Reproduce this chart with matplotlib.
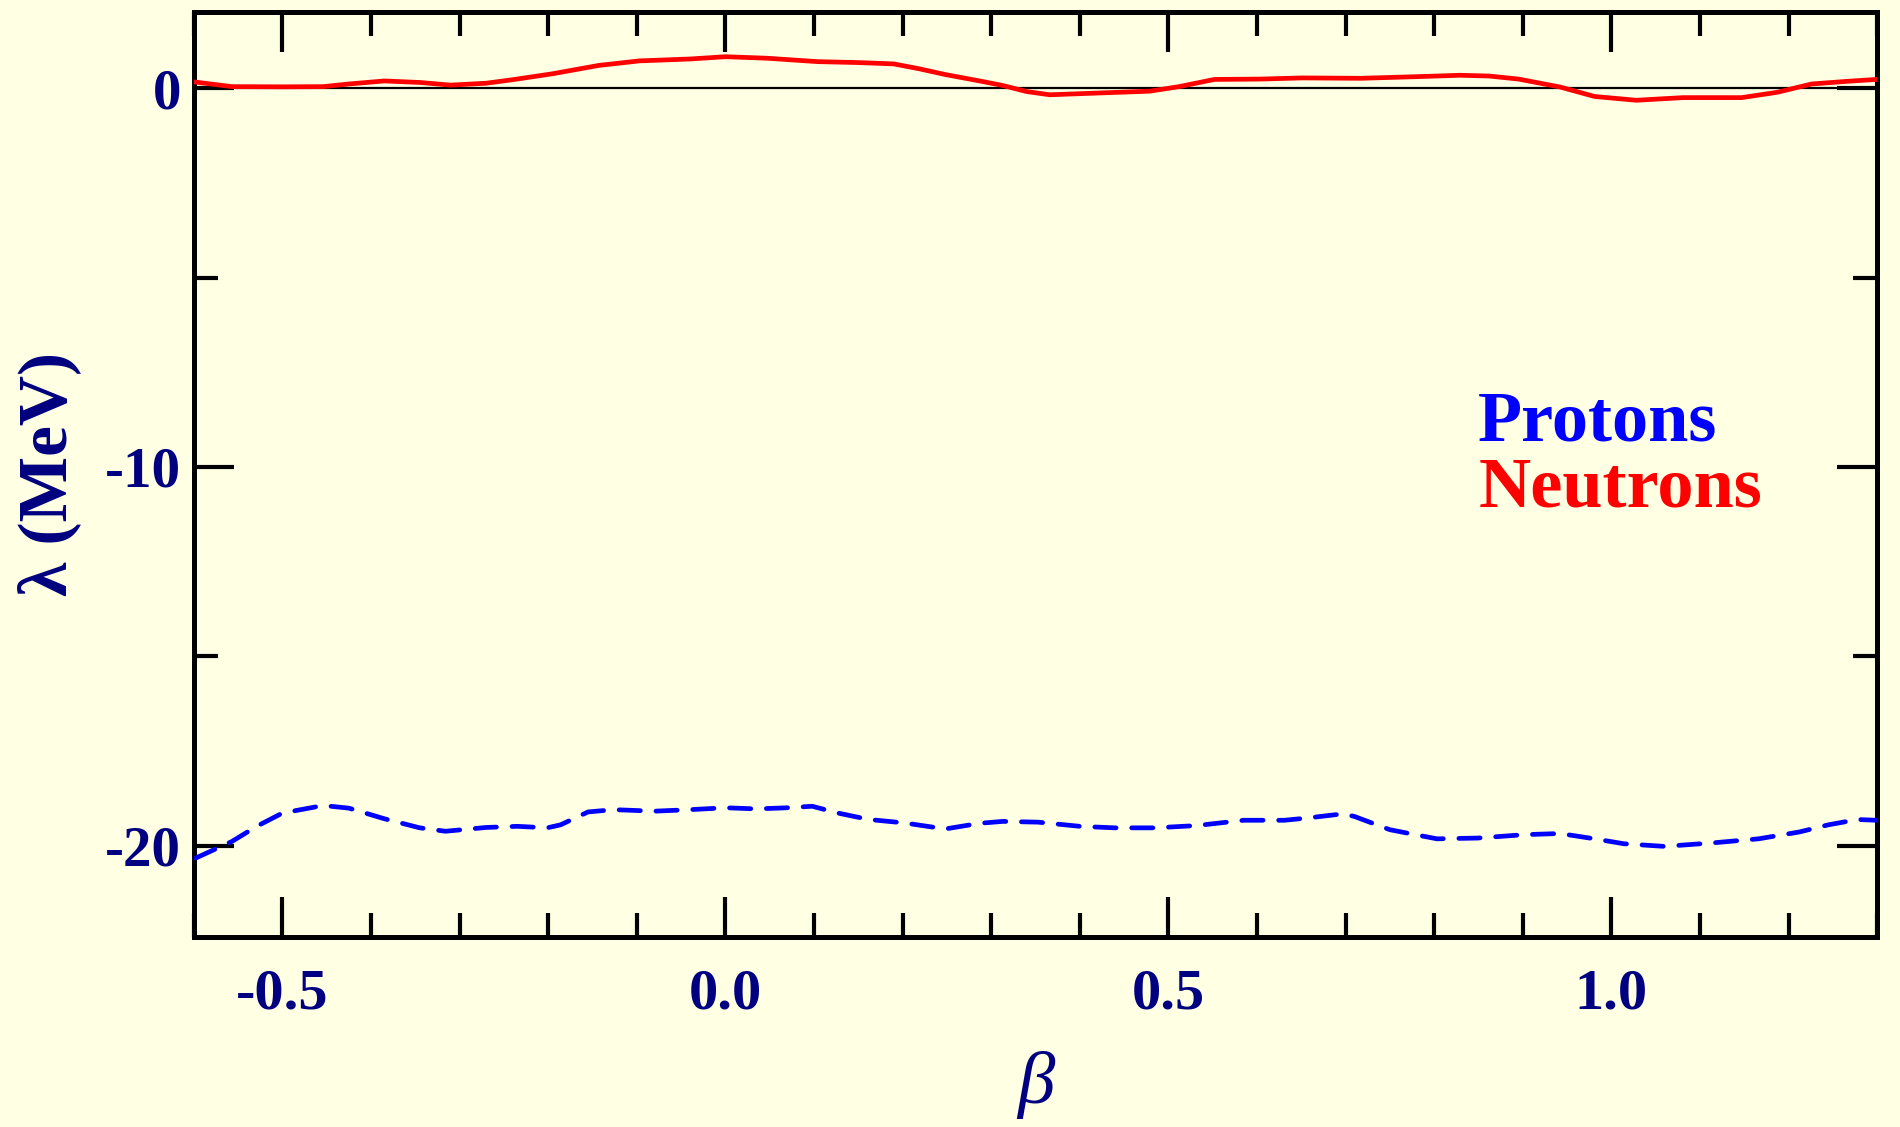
import numpy as np
import matplotlib
matplotlib.use('Agg')
import matplotlib.pyplot as plt
from matplotlib.ticker import MultipleLocator

# neutron Fermi level (solid red)
beta_n = [-0.598, -0.557, -0.5, -0.454, -0.425, -0.385, -0.345, -0.31, -0.27, -0.241,
          -0.195, -0.143, -0.097, -0.04, 0.0, 0.047, 0.104, 0.15, 0.19, 0.219, 0.248,
          0.287, 0.313, 0.34, 0.366, 0.419, 0.479, 0.512, 0.552, 0.604, 0.651, 0.717,
          0.79, 0.829, 0.862, 0.895, 0.942, 0.981, 1.028, 1.081, 1.147, 1.187, 1.226,
          1.266, 1.299]
lam_n = [0.16, 0.04, 0.035, 0.04, 0.11, 0.19, 0.15, 0.08, 0.13, 0.22,
         0.38, 0.60, 0.72, 0.77, 0.83, 0.79, 0.70, 0.675, 0.64, 0.51, 0.36,
         0.19, 0.07, -0.09, -0.175, -0.13, -0.08, 0.04, 0.23, 0.24, 0.27, 0.26,
         0.31, 0.34, 0.32, 0.24, 0.03, -0.22, -0.32, -0.25, -0.25, -0.11, 0.11,
         0.18, 0.23]

# proton Fermi level (dashed blue)
beta_p = [-0.598, -0.557, -0.529, -0.5, -0.454, -0.425, -0.385, -0.345, -0.316, -0.27,
          -0.235, -0.201, -0.186, -0.155, -0.126, -0.08, -0.04, 0.0, 0.035, 0.07,
          0.098, 0.127, 0.162, 0.202, 0.248, 0.287, 0.313, 0.353, 0.4, 0.439,
          0.485, 0.532, 0.585, 0.631, 0.657, 0.697, 0.71, 0.75, 0.803, 0.849,
          0.902, 0.942, 0.981, 1.014, 1.06, 1.113, 1.166, 1.212, 1.245, 1.278, 1.299]
lam_p = [-20.33, -19.89, -19.49, -19.14, -18.94, -19.01, -19.29, -19.53, -19.62, -19.52,
         -19.49, -19.53, -19.45, -19.11, -19.05, -19.09, -19.05, -19.0, -19.03, -19.0,
         -18.96, -19.14, -19.31, -19.40, -19.56, -19.41, -19.36, -19.38, -19.49, -19.53,
         -19.53, -19.47, -19.33, -19.33, -19.27, -19.16, -19.23, -19.58, -19.82, -19.80,
         -19.71, -19.68, -19.82, -19.95, -20.02, -19.93, -19.82, -19.64, -19.45, -19.31, -19.33]

bg = '#ffffe3'
navy = '#000080'
plt.rcParams['font.family'] = ['Liberation Serif', 'DejaVu Serif']

fig = plt.figure(figsize=(19, 11.27), dpi=100, facecolor=bg)
ax = fig.add_axes([0.102, 0.169, 0.886, 0.820], facecolor=bg)

ax.axhline(0, color='black', lw=1.6, zorder=1)
ax.plot(beta_n, lam_n, color='red', lw=3.4, zorder=3)
ax.plot(beta_p, lam_p, color='blue', lw=3.4, dashes=(4.5, 3.3),
        dash_capstyle='round', zorder=3)

ax.set_xlim(-0.6, 1.3)
ax.set_ylim(-22.4, 2.0)

ax.xaxis.set_major_locator(MultipleLocator(0.5))
ax.xaxis.set_minor_locator(MultipleLocator(0.1))
ax.yaxis.set_major_locator(MultipleLocator(10))
ax.yaxis.set_minor_locator(MultipleLocator(5))

ax.tick_params(which='both', direction='in', top=True, right=True, width=3, color='black')
ax.tick_params(which='major', length=29)
ax.tick_params(which='minor', length=17)
ax.tick_params(axis='x', which='major', pad=23, labelsize=42, labelcolor=navy)
ax.tick_params(axis='y', which='major', pad=9, labelsize=41, labelcolor=navy)

for sp in ax.spines.values():
    sp.set_linewidth(3.6)

ax.set_xticklabels([f'{v:.1f}' for v in ax.get_xticks()])
ax.set_yticklabels([f'{int(v)}' for v in ax.get_yticks()])
for lab in ax.get_xticklabels() + ax.get_yticklabels():
    lab.set_fontweight('bold')

fig.text(0.026, 0.579, 'λ (MeV)', rotation=90, ha='center', va='center',
         fontsize=50, fontweight='bold', color=navy)
fig.text(0.545, 0.037, 'β', ha='center', va='center', fontsize=54,
         fontstyle='italic', color=navy)

ax.text(0.763, 0.556, 'Protons', transform=ax.transAxes, color='blue',
        fontsize=52, fontweight='bold', ha='left', va='center')
ax.text(0.763, 0.484, 'Neutrons', transform=ax.transAxes, color='red',
        fontsize=52, fontweight='bold', ha='left', va='center')

fig.savefig('out.png', dpi=100, facecolor=bg)
